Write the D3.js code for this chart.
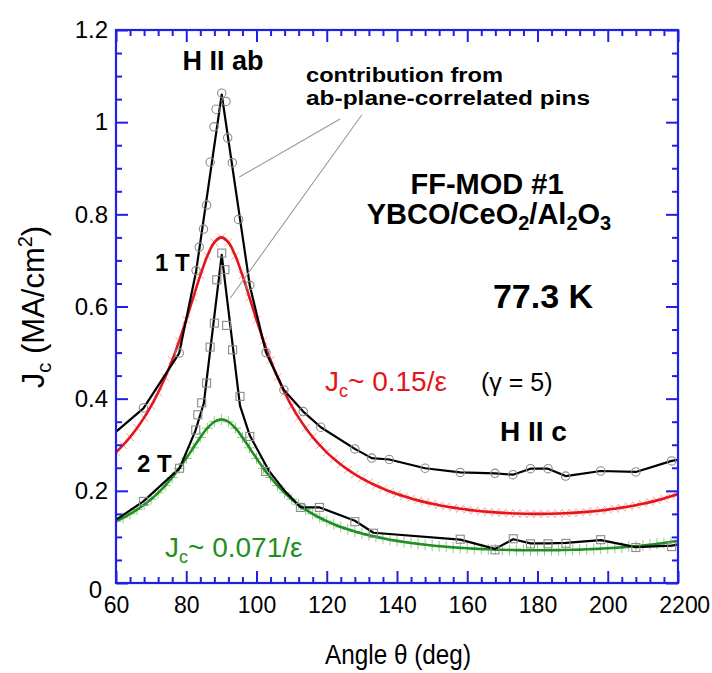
<!DOCTYPE html>
<html><head><meta charset="utf-8">
<script src="https://cdn.jsdelivr.net/npm/d3@7"></script>
<style>body{margin:0;background:#fff} text{font-family:"Liberation Sans",Arial,Helvetica,sans-serif}</style>
</head><body><svg id="c" width="712" height="673"></svg>
<script>
// ---------- data ----------
const xTicks = [60,80,100,120,140,160,180,200,220];
const xTickLabels = ["60","80","100","120","140","160","180","200","220"];
const yTicks = [0,0.2,0.4,0.6,0.8,1,1.2];
const yTickLabels = ["0","0.2","0.4","0.6","0.8","1","1.2"];

const fitAngles = [60,62,64,66,68,70,72,74,76,78,80,82,84,86,88,90,92,94,96,98,100,102,104,106,108,110,112,114,116,118,120,
 122,124,126,128,130,132,134,136,138,140,142,144,146,148,150,152,154,156,158,160,162,164,166,168,170,172,174,176,178,180,
 182,184,186,188,190,192,194,196,198,200,202,204,206,208,210,212,214,216,218,220];
// red fit, Jc ~ 0.15/eps
const fit1T = [0.2835,0.2991,0.3167,0.3365,0.3588,0.3843,0.4134,0.4464,0.4836,0.5255,0.5712,0.6197,0.6675,0.7097,0.7392,0.75,
 0.7392,0.7097,0.6675,0.6197,0.5712,0.5255,0.4836,0.4464,0.4134,0.3843,0.3588,0.3365,0.3167,0.2991,0.2835,
 0.2696,0.2572,0.2460,0.2360,0.2270,0.2188,0.2115,0.2047,0.1986,0.1931,0.1881,0.1835,0.1793,0.1755,0.1721,0.1689,0.1661,0.1635,0.1613,0.1592,
 0.1574,0.1558,0.1544,0.1532,0.1522,0.1514,0.1508,0.1503,0.1501,0.15,
 0.1501,0.1503,0.1508,0.1514,0.1522,0.1532,0.1544,0.1558,0.1574,0.1592,0.1613,0.1635,0.1661,0.1689,0.1721,0.1755,0.1793,0.1835,0.1881,0.1931];
// green fit, Jc ~ 0.071/eps
const fit2T = [0.1342,0.1416,0.1499,0.1593,0.1698,0.1819,0.1957,0.2113,0.2289,0.2487,0.2704,0.2933,0.3160,0.3359,0.3499,0.355,
 0.3499,0.3359,0.3160,0.2933,0.2704,0.2487,0.2289,0.2113,0.1957,0.1819,0.1698,0.1593,0.1499,0.1416,0.1342,
 0.1276,0.1217,0.1165,0.1117,0.1074,0.1036,0.1001,0.0969,0.0940,0.0914,0.0890,0.0868,0.0849,0.0831,0.0814,0.0800,0.0786,0.0774,0.0763,0.0754,
 0.0745,0.0737,0.0731,0.0725,0.0720,0.0717,0.0714,0.0712,0.0710,0.071,
 0.0710,0.0712,0.0714,0.0717,0.0720,0.0725,0.0731,0.0737,0.0745,0.0754,0.0763,0.0774,0.0786,0.0800,0.0814,0.0831,0.0849,0.0868,0.0890,0.0914];

// 1 T measured (circles) and its black line
const circ1TAngle = [67.8,78.0,82.8,83.7,84.9,85.8,86.8,87.9,88.5,90.1,91.3,91.8,93.1,94.9,98.1,102.7,107.8,113.3,118.3,128.0,132.8,137.8,148.0,158.0,167.9,173.0,178.0,183.0,188.0,198.0,208.0,218.2];
const circ1TJc    = [0.380,0.499,0.678,0.729,0.768,0.820,0.913,0.990,1.028,1.063,1.045,0.966,0.912,0.789,0.646,0.500,0.419,0.372,0.338,0.291,0.271,0.268,0.249,0.240,0.238,0.235,0.248,0.248,0.232,0.243,0.241,0.265];
const line1TAngle = [58,67.8,78.0,82.8,90.1,98.1,102.7,107.8,113.3,118.3,128.0,132.8,137.8,148.0,158.0,167.9,173.0,178.0,183.0,188.0,198.0,208.0,218.2,222];
const line1TJc    = [0.315,0.379,0.499,0.676,1.060,0.645,0.500,0.419,0.372,0.338,0.291,0.271,0.268,0.249,0.240,0.238,0.235,0.248,0.248,0.232,0.243,0.241,0.265,0.27];

// 2 T measured (squares) and its black line
const sq2TAngle = [67.8,78.1,82.7,83.3,84.4,85.8,86.8,88.0,88.7,90.1,91.0,91.5,93.2,95.3,98.1,102.6,112.5,117.9,128.0,133.3,158.0,167.9,173.1,178.0,183.0,188.1,198.0,208.0,218.2];
const sq2TJc    = [0.177,0.249,0.332,0.365,0.391,0.434,0.512,0.564,0.658,0.716,0.680,0.559,0.506,0.405,0.318,0.242,0.164,0.164,0.133,0.108,0.095,0.072,0.096,0.085,0.085,0.086,0.094,0.077,0.079];
const line2TAngle = [58,67.8,78.1,82.6,85.0,90.1,95.3,98.1,103.4,108,112.6,118.0,128.0,133.3,158.0,167.9,173.1,178.0,183.0,188.1,198.0,208.0,218.2,222];
const line2TJc    = [0.127,0.177,0.249,0.330,0.390,0.712,0.385,0.320,0.245,0.200,0.164,0.164,0.135,0.109,0.094,0.074,0.095,0.086,0.086,0.087,0.093,0.078,0.081,0.086];

// annotation pointer lines (data coordinates: angle1, jc1, angle2, jc2)
const pointerLines = [[123.8,1.007,95.1,0.881],[130.0,1.016,92.5,0.618]];

// ---------- chart ----------
const svg = d3.select("#c");
const W = 712, H = 673;
const m = {l:116, r:678, t:30, b:583};
const x = d3.scaleLinear().domain([60,220]).range([m.l,m.r]);
const y = d3.scaleLinear().domain([0,1.2]).range([m.b,m.t]);
const BLUE = "#1f1fe6", RED = "#e5161b", GREEN = "#1f8f22";

svg.append("rect").attr("width",W).attr("height",H).attr("fill","#fff");
svg.append("defs").append("clipPath").attr("id","clip")
  .append("rect").attr("x",m.l).attr("y",m.t).attr("width",m.r-m.l).attr("height",m.b-m.t);
const plot = svg.append("g").attr("clip-path","url(#clip)");

const fitRed = fitAngles.map((a,i)=>[a,fit1T[i]]);
const fitGreen = fitAngles.map((a,i)=>[a,fit2T[i]]);
const line = d3.line().x(d=>x(d[0])).y(d=>y(d[1]));
const smooth = d3.line().x(d=>x(d[0])).y(d=>y(d[1])).curve(d3.curveCatmullRom);

// fit markers (faint)
plot.append("g").selectAll("path").data(fitRed).join("path")
  .attr("d", d3.symbol(d3.symbolX, 42))
  .attr("transform", d=>`translate(${x(d[0])},${y(d[1])})`)
  .attr("fill","none").attr("stroke","#f5a0a0").attr("stroke-width",1);
plot.append("g").selectAll("path").data(fitGreen).join("path")
  .attr("d", d3.symbol(d3.symbolPlus, 42))
  .attr("transform", d=>`translate(${x(d[0])},${y(d[1])})`)
  .attr("fill","none").attr("stroke","#8fcc8f").attr("stroke-width",1);

plot.append("path").datum(fitRed).attr("d",smooth).attr("fill","none").attr("stroke",RED).attr("stroke-width",2.6);
plot.append("path").datum(fitGreen).attr("d",smooth).attr("fill","none").attr("stroke",GREEN).attr("stroke-width",2.6);

// measured lines
const l1 = line1TAngle.map((a,i)=>[a,line1TJc[i]]);
const l2 = line2TAngle.map((a,i)=>[a,line2TJc[i]]);
plot.append("path").datum(l1).attr("d",line).attr("fill","none").attr("stroke","#000").attr("stroke-width",2.2).attr("stroke-linejoin","round");
plot.append("path").datum(l2).attr("d",line).attr("fill","none").attr("stroke","#000").attr("stroke-width",2.2).attr("stroke-linejoin","round");

// markers
plot.append("g").selectAll("circle").data(circ1TAngle.map((a,i)=>[a,circ1TJc[i]])).join("circle")
  .attr("cx",d=>x(d[0])).attr("cy",d=>y(d[1])).attr("r",4.2)
  .attr("fill","none").attr("stroke","#8a8a8a").attr("stroke-width",1.1);
plot.append("g").selectAll("rect").data(sq2TAngle.map((a,i)=>[a,sq2TJc[i]])).join("rect")
  .attr("x",d=>x(d[0])-4).attr("y",d=>y(d[1])-4).attr("width",8).attr("height",8)
  .attr("fill","none").attr("stroke","#8a8a8a").attr("stroke-width",1.1);

// pointer lines
svg.append("g").selectAll("line").data(pointerLines).join("line")
  .attr("x1",d=>x(d[0])).attr("y1",d=>y(d[1])).attr("x2",d=>x(d[2])).attr("y2",d=>y(d[3]))
  .attr("stroke","#9a9a9a").attr("stroke-width",1.1);

// ---------- axes ----------
const xMinor = d3.range(60,221,4).filter(v=>v%20!==0);
const yMinor = d3.range(0,1.2001,0.05).filter(v=>Math.abs(v*5-Math.round(v*5))>1e-6);
function styleAxis(g){ g.select(".domain").remove(); g.selectAll("line").attr("stroke",BLUE).attr("stroke-width",2); g.selectAll("text").remove(); }
svg.append("g").attr("transform",`translate(0,${m.b})`).call(d3.axisTop(x).tickValues(xTicks).tickSize(12)).call(styleAxis);
svg.append("g").attr("transform",`translate(0,${m.b})`).call(d3.axisTop(x).tickValues(xMinor).tickSize(6)).call(styleAxis);
svg.append("g").attr("transform",`translate(0,${m.t})`).call(d3.axisBottom(x).tickValues(xTicks).tickSize(12)).call(styleAxis);
svg.append("g").attr("transform",`translate(0,${m.t})`).call(d3.axisBottom(x).tickValues(xMinor).tickSize(6)).call(styleAxis);
svg.append("g").attr("transform",`translate(${m.l},0)`).call(d3.axisRight(y).tickValues(yTicks).tickSize(12)).call(styleAxis);
svg.append("g").attr("transform",`translate(${m.l},0)`).call(d3.axisRight(y).tickValues(yMinor).tickSize(6)).call(styleAxis);
svg.append("g").attr("transform",`translate(${m.r},0)`).call(d3.axisLeft(y).tickValues(yTicks).tickSize(12)).call(styleAxis);
svg.append("g").attr("transform",`translate(${m.r},0)`).call(d3.axisLeft(y).tickValues(yMinor).tickSize(6)).call(styleAxis);
svg.append("rect").attr("x",m.l).attr("y",m.t).attr("width",m.r-m.l).attr("height",m.b-m.t)
  .attr("fill","none").attr("stroke",BLUE).attr("stroke-width",2.2);

// tick labels
const xl = svg.append("g").attr("transform",`translate(0,${m.b})`)
  .call(d3.axisBottom(x).tickValues(xTicks).tickSize(0).tickPadding(14).tickFormat((d,i)=>xTickLabels[i]));
xl.select(".domain").remove();
xl.selectAll("text").attr("font-size",23).attr("fill","#000").attr("font-family","Liberation Sans, Arial, sans-serif");
// stray clipped digit after last label (as in the source image)
const lastLab = xl.selectAll("text").filter((d,i)=>i===xTicks.length-1).node();
const lw = lastLab.getComputedTextLength();
svg.append("text").attr("x",x(220)+lw/2).attr("y",m.b+14).attr("dy","0.71em").attr("font-size",23).text("0");

const yl = svg.append("g").attr("transform",`translate(${m.l},0)`)
  .call(d3.axisLeft(y).tickValues(yTicks).tickSize(0).tickPadding(8).tickFormat((d,i)=>yTickLabels[i]));
yl.select(".domain").remove();
yl.selectAll("text").attr("font-size",24).attr("fill","#000").attr("font-family","Liberation Sans, Arial, sans-serif");
yl.selectAll("text").filter(d=>d===0).attr("dy","0.62em").attr("x",-14);

// axis titles
svg.append("text").attr("x",398).attr("y",664).attr("text-anchor","middle").attr("font-size",27)
  .attr("textLength",146).attr("lengthAdjust","spacingAndGlyphs").text("Angle θ (deg)");
const yt = svg.append("text").attr("transform","translate(44,307) rotate(-90)").attr("text-anchor","middle").attr("font-size",31);
yt.append("tspan").text("J");
yt.append("tspan").attr("font-size",20).attr("dy",7).text("c");
yt.append("tspan").attr("dy",-7).text(" (MA/cm");
yt.append("tspan").attr("font-size",20).attr("dy",-12).text("2");
yt.append("tspan").attr("dy",12).text(")");

// annotations
function txt(xp,yp,s,size,opts={}){
  const t = svg.append("text").attr("x",xp).attr("y",yp).attr("font-size",size)
    .attr("font-weight",opts.bold?"bold":"normal").attr("text-anchor",opts.anchor||"start")
    .attr("fill",opts.fill||"#000").text(s);
  if (opts.len) t.attr("textLength",opts.len).attr("lengthAdjust","spacingAndGlyphs");
  return t;
}
txt(223,70,"H II ab",27,{bold:true,anchor:"middle"});
txt(306,82,"contribution from",20,{bold:true,len:197});
txt(306,105,"ab-plane-correlated pins",20,{bold:true,len:284});
txt(487,194,"FF-MOD #1",29,{bold:true,anchor:"middle"});
const yb = svg.append("text").attr("x",489).attr("y",224).attr("font-size",29).attr("font-weight","bold").attr("text-anchor","middle");
yb.append("tspan").text("YBCO/CeO");
yb.append("tspan").attr("font-size",20).attr("dy",6).text("2");
yb.append("tspan").attr("dy",-6).text("/Al");
yb.append("tspan").attr("font-size",20).attr("dy",6).text("2");
yb.append("tspan").attr("dy",-6).text("O");
yb.append("tspan").attr("font-size",20).attr("dy",6).text("3");
txt(543,308,"77.3 K",34,{bold:true,anchor:"middle"});
txt(155,271,"1 T",24,{bold:true});
txt(137,472,"2 T",24,{bold:true});
txt(500,441,"H II c",28,{bold:true});

function jcLabel(xp,yp,coef,color){
  const t = svg.append("text").attr("x",xp).attr("y",yp).attr("font-size",28).attr("fill",color);
  t.append("tspan").text("J");
  t.append("tspan").attr("font-size",18).attr("dy",6).text("c");
  t.append("tspan").attr("dy",-6).text("~ " + coef + "/ε");
}
jcLabel(325,391,"0.15",RED);
txt(481,391,"(γ = 5)",25);
jcLabel(165,557,"0.071",GREEN);
</script></body></html>
